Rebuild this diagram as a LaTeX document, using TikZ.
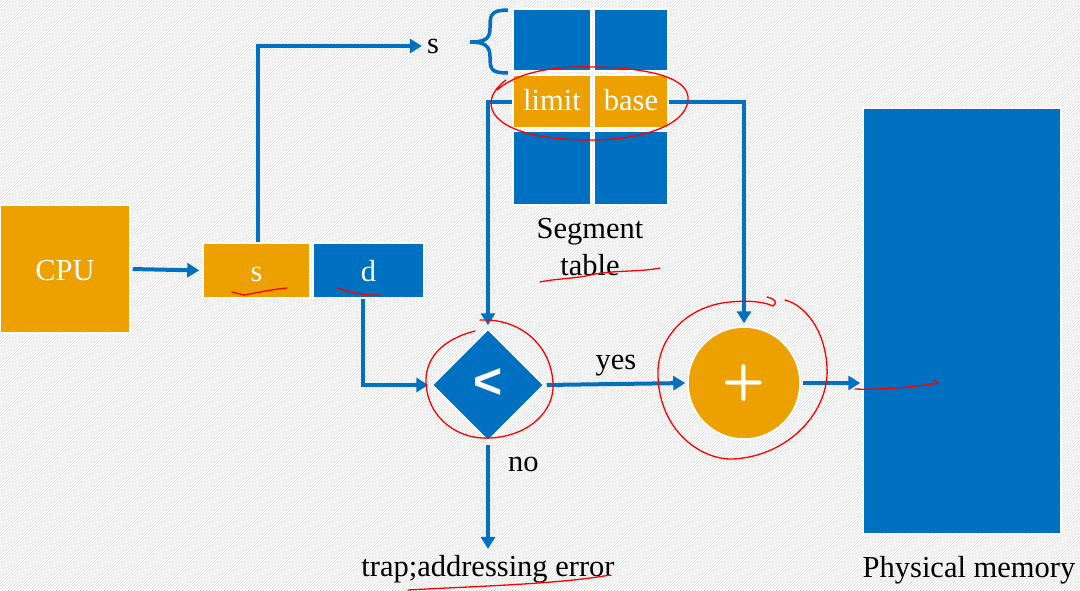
\documentclass[tikz,border=0pt]{standalone}
\usepackage{fontspec}
\setmainfont{Liberation Serif}
\newfontfamily\cmpfont{Liberation Sans}
\usetikzlibrary{arrows.meta,shapes.geometric,patterns}

\definecolor{segblue}{RGB}{0,112,192}
\definecolor{segorange}{RGB}{237,161,0}

\begin{document}
\begin{tikzpicture}[x=1pt, y=-1pt,
  txt/.style={font=\fontsize{30.5}{35}\selectfont, inner sep=0pt},
  cell/.style={txt, draw=white, line width=1.5pt, text=white, text height=22pt, text depth=0pt},
  arr/.style={draw=segblue, line width=4pt, -{Triangle[length=12pt,width=14pt]}},
  ink/.style={red, line width=1.3pt, line cap=round}]

  % Background
  \useasboundingbox (0,0) rectangle (1080,590);
  \fill[white] (0,0) rectangle (1080,590);
  \fill[pattern=north east lines, pattern color=black!14] (0,0) rectangle (1080,590);

  % CPU and logical address
  \node[cell, fill=segorange, minimum width=130pt, minimum height=128pt] (cpu) at (65,269) {CPU};
  \node[cell, fill=segorange, minimum width=107pt, minimum height=55pt] (sbox) at (256.5,270.5) {s};
  \node[cell, fill=segblue, minimum width=111pt, minimum height=55pt] (dbox) at (368.5,270.5) {d};
  \node[txt] (slabel) at (433,46) {s};

  % Segment table
  \node[cell, fill=segblue, minimum width=78pt, minimum height=62pt] (t1) at (552,40) {};
  \node[cell, fill=segblue, minimum width=74pt, minimum height=62pt] (t2) at (631,40) {};
  \node[cell, fill=segorange, minimum width=78pt, minimum height=53pt, text depth=4pt] (limit) at (552,101.5) {limit};
  \node[cell, fill=segorange, minimum width=74pt, minimum height=53pt, text depth=4pt] (base) at (631,101.5) {base};
  \node[cell, fill=segblue, minimum width=78pt, minimum height=74pt] (b1) at (552,168) {};
  \node[cell, fill=segblue, minimum width=74pt, minimum height=74pt] (b2) at (631,168) {};
  \node[txt, align=center] (tlabel) at (590,247) {Segment\\[2pt]table};
  \draw[segblue, line width=3.5pt] (508,10) .. controls (490,10) and (490,16) .. (490,28)
    .. controls (490,39) and (485,42) .. (470,42) .. controls (485,42) and (490,46) .. (490,57)
    .. controls (490,69) and (491,73) .. (508,73);

  % Compare and add
  \node[cell, shape=diamond, aspect=1, fill=segblue, minimum size=112pt] (cmp) at (488,385) {};
  \node[text=white, font=\cmpfont\bfseries\fontsize{50}{50}\selectfont] at ([yshift=2pt]cmp) {<};
  \node[cell, shape=circle, fill=segorange, minimum size=112pt, text height=, text depth=,
    font=\sffamily\bfseries\fontsize{50}{50}\selectfont] (add) at (744,383) {+};

  % Physical memory
  \node[cell, fill=segblue, minimum width=198pt, minimum height=426pt] (mem) at (962,321) {};
  \node[txt] (memlabel) at (969,570) {Physical memory};
  \node[txt] (trap) at (488,569) {trap;addressing error};

  % Connectors
  \draw[arr, shorten <=2pt, shorten >=3pt] (cpu.east) -- (sbox.west);
  \draw[arr, shorten >=5pt] ([xshift=1.5pt]sbox.north) |- (slabel.west);
  \draw[arr, shorten >=3pt] (limit.west) -| (cmp.north);
  \draw[arr, shorten >=3pt] (base.east) -| (add.north);
  \draw[arr, shorten >=3pt] ([xshift=-6pt]dbox.south) |- (cmp.west);
  \draw[arr, shorten <=2pt, shorten >=2pt] (cmp.east) -- node[txt, above=6pt] (yes) {yes} (add.west);
  \draw[arr, shorten <=3pt, shorten >=6pt] (cmp.south) -- node[txt, pos=0.2, right=18pt] (no) {no} (trap.north);
  \draw[arr, shorten <=2pt, shorten >=2pt] (add.east) -- (add.east -| mem.west);

  % Red ink marks
  \draw[ink] (497,90) .. controls (520,70) and (560,66) .. (595,67) .. controls (650,68) and (690,78) .. (688,100)
    .. controls (686,126) and (640,140) .. (590,140) .. controls (530,140) and (490,126) .. (491,102)
    .. controls (492,93) and (498,86) .. (506,80);
  \draw[ink] (232,292) -- (244,295) .. controls (260,292) and (275,289) .. (287,288);
  \draw[ink] (337,288) .. controls (350,292) and (365,296) .. (380,295);
  \draw[ink] (540,282) .. controls (560,278) and (575,279) .. (595,274) .. controls (620,270) and (640,272) .. (660,268);
  \draw[ink] (408,590) .. controls (480,586) and (560,584) .. (610,575);
  \draw[ink] (475,331) .. controls (440,340) and (425,360) .. (426,383) .. controls (428,420) and (460,440) .. (490,438)
    .. controls (530,436) and (555,410) .. (553,383) .. controls (551,345) and (520,318) .. (480,320);
  \draw[ink] (767,297) .. controls (775,299) and (778,302) .. (773,306) .. controls (760,300) and (740,301) .. (730,302)
    .. controls (685,306) and (656,340) .. (658,377) .. controls (660,430) and (700,460) .. (733,459)
    .. controls (790,456) and (830,410) .. (827,367) .. controls (825,330) and (805,305) .. (785,300);
  \draw[ink] (855,389) .. controls (880,390) and (915,387) .. (938,383) -- (933,380);
\end{tikzpicture}
\end{document}
